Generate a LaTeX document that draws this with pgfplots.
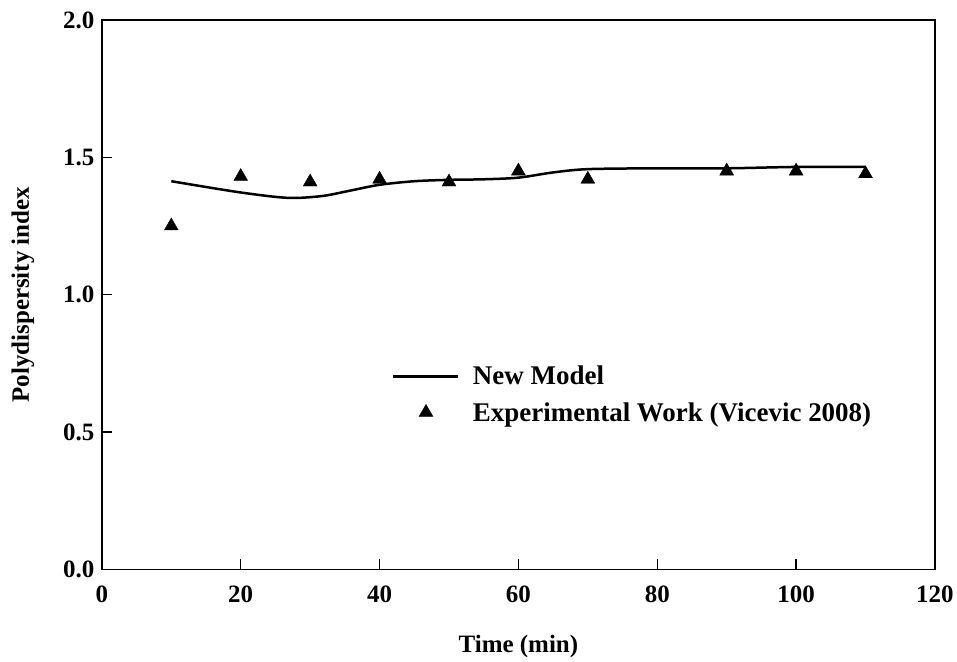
\documentclass[border=0pt]{standalone}
\usepackage{pgfplots}
\pgfplotsset{compat=1.18}
\usepackage{fontspec}
\setmainfont{Liberation Serif}
\begin{document}
\begin{tikzpicture}
\begin{axis}[
  name=ax,
  scale only axis,
  width=834bp, height=550bp,
  xmin=0, xmax=120, ymin=0, ymax=2.0,
  xtick={0,20,...,120},
  ytick={0,0.5,1.0,1.5,2.0},
  yticklabel style={xshift=-4bp,/pgf/number format/.cd,fixed,fixed zerofill,precision=1},
  /pgf/number format/assume math mode=true,
  tick align=inside,
  xtick pos=bottom, ytick pos=left,
  major tick length=10bp,
  axis line style={line width=1.6bp},
  tick style={line width=1.4bp, black},
  ticklabel style={font=\fontsize{25bp}{28bp}\selectfont\bfseries},
  xticklabel style={yshift=-13bp},
  label style={font=\fontsize{25bp}{28bp}\selectfont\bfseries},
  xlabel={Time (min)},
  ylabel={Polydispersity index},
  xlabel style={yshift=-26bp},
  ylabel style={yshift=22bp},
  legend style={at={(axis cs:41.3,0.755)}, anchor=north west, draw=none, fill=none,
    font=\fontsize{27bp}{30bp}\selectfont\bfseries, row sep=12bp},
  legend cell align=left,
]
\addplot[black, line width=2.5bp, smooth, tension=0.5,
  legend image code/.code={\path[draw=none] (0bp,0bp) -- (78bp,0bp); \draw[black, line width=2.5bp] (0bp,0bp) -- (65bp,0bp);}]
  coordinates {
  (10,1.413) (15,1.392) (20,1.372) (25,1.356) (28,1.352) (32,1.360)
  (36,1.380) (40,1.400) (45,1.413) (50,1.418) (55,1.420) (60,1.426)
  (65,1.445) (70,1.457) (80,1.460) (90,1.460) (100,1.465) (110,1.465)
  };
\addlegendentry{New Model}
\addplot[only marks, mark=triangle*, mark size=8bp, black,
  legend image code/.code={\path[draw=none] (0bp,0bp) -- (78bp,0bp); \draw[black] plot[mark=triangle*, mark size=8bp] coordinates {(33bp,0bp)};}]
  coordinates {
  (10,1.25) (20,1.43) (30,1.41) (40,1.42) (50,1.41)
  (60,1.45) (70,1.42) (90,1.45) (100,1.45) (110,1.44)
  };
\addlegendentry{Experimental Work (Vicevic 2008)}
\end{axis}
\path (ax.north west) ++(0,20bp);
\path (ax.south west) ++(-102bp,-90bp);
\end{tikzpicture}
\end{document}
